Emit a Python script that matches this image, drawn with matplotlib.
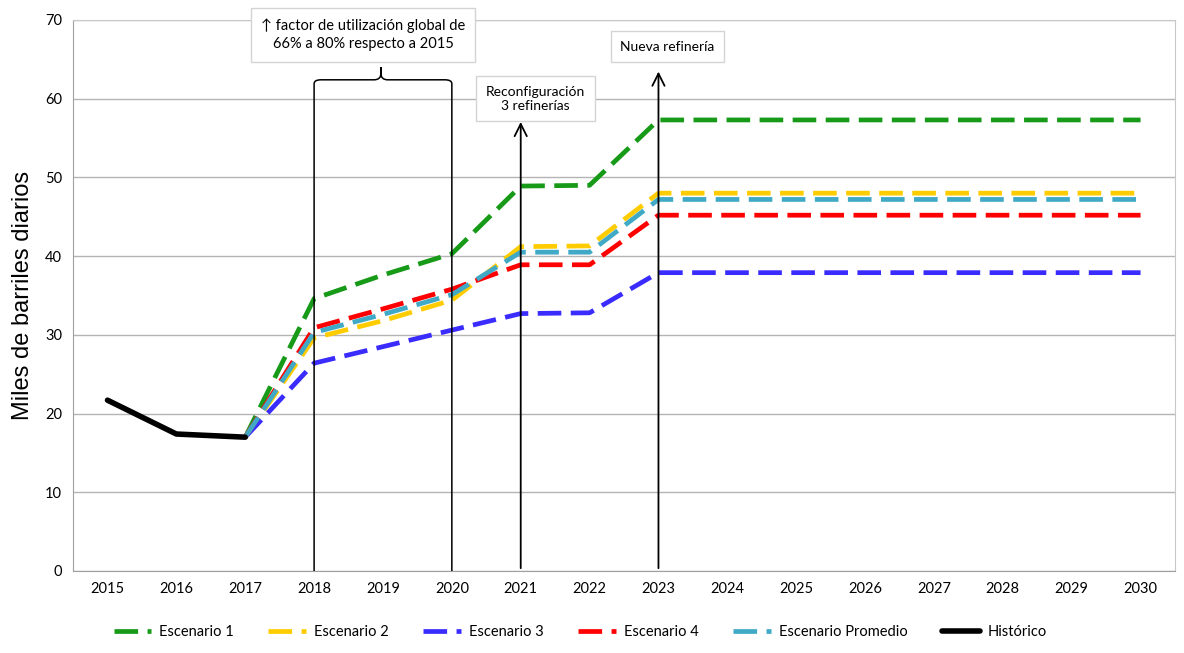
import matplotlib
matplotlib.use("Agg")
import matplotlib.pyplot as plt
from matplotlib.path import Path
from matplotlib.patches import PathPatch

plt.rcParams["font.family"] = ["Lato", "DejaVu Sans"]

# ---------------------------------------------------------------- data
years = list(range(2015, 2031))
hist_years = [2015, 2016, 2017]
historico = [21.7, 17.4, 17.0]

proj_years = list(range(2017, 2031))
escenario_1 = [17.0, 34.6, 37.6, 40.3, 48.9, 49.0] + [57.3] * 8
escenario_2 = [17.0, 29.6, 31.8, 34.4, 41.2, 41.3] + [48.0] * 8
escenario_3 = [17.0, 26.4, 28.5, 30.6, 32.7, 32.8] + [37.9] * 8
escenario_4 = [17.0, 30.9, 33.3, 35.8, 38.9, 38.9] + [45.2] * 8
promedio = [17.0, 30.3, 32.6, 35.1, 40.5, 40.5] + [47.2] * 8

series = [
    ("Escenario 1", escenario_1, "#179a17"),
    ("Escenario 2", escenario_2, "#ffcc00"),
    ("Escenario 3", escenario_3, "#3a2cff"),
    ("Escenario 4", escenario_4, "#ff0000"),
    ("Escenario Promedio", promedio, "#3fa9c6"),
]

# ---------------------------------------------------------------- plot
fig = plt.figure(figsize=(11.84, 6.53), dpi=100)
ax = fig.add_axes([0.0617, 0.1256, 0.9307, 0.8438])

for name, vals, col in series:
    ax.plot(proj_years, vals, color=col, lw=3.4, ls=(0, (5, 2)),
            solid_capstyle="butt", label=name, zorder=3)
ax.plot(hist_years, historico, color="black", lw=4, label="Histórico",
        solid_capstyle="round", zorder=4)

ax.set_xlim(2014.5, 2030.5)
ax.set_ylim(0, 70)
ax.set_xticks(years)
ax.set_yticks(range(0, 71, 10))
ax.tick_params(length=0, labelsize=10.5, pad=8)
ax.grid(axis="y", color="#b4b4b4", lw=1)
ax.set_axisbelow(True)
for sp in ax.spines.values():
    sp.set_color("#c8c8c8")
ax.spines["left"].set_color("#a0a0a0")
ax.spines["bottom"].set_color("#a0a0a0")
ax.set_ylabel("Miles de barriles diarios", fontsize=17, labelpad=8,
              family=["Liberation Sans", "DejaVu Sans"])

# brace over 2018-2020, legs run down to the axis
yb = 62.4
verts = [
    (2018, 0), (2018, yb - 0.5),
    (2018, yb), (2018.1, yb),
    (2018.87, yb),
    (2018.97, yb), (2018.97, yb + 0.8),
    (2018.97, yb + 1.6),
    (2018.97, yb + 0.8),
    (2018.97, yb), (2019.07, yb),
    (2019.9, yb),
    (2020, yb), (2020, yb - 0.5),
    (2020, 0),
]
codes = [Path.MOVETO, Path.LINETO,
         Path.CURVE3, Path.CURVE3,
         Path.LINETO,
         Path.CURVE3, Path.CURVE3,
         Path.LINETO,
         Path.LINETO,
         Path.CURVE3, Path.CURVE3,
         Path.LINETO,
         Path.CURVE3, Path.CURVE3,
         Path.LINETO]
ax.add_patch(PathPatch(Path(verts, codes), fill=False, lw=1.1,
                       color="black", clip_on=False, zorder=5))

arrow = dict(arrowstyle="->", lw=1.3, color="black", mutation_scale=22)
ax.annotate("", xy=(2021, 57.4), xytext=(2021, 0), arrowprops=arrow,
            zorder=5, annotation_clip=False)
ax.annotate("", xy=(2023, 63.8), xytext=(2023, 0), arrowprops=arrow,
            zorder=5, annotation_clip=False)

box = dict(boxstyle="square,pad=0.7", fc="white", ec="#d4d4d4", lw=1)
ax.text(2018.71, 68.1, "\u2191 factor de utilización global de\n"
        "66% a 80% respecto a 2015", ha="center", va="center",
        fontsize=10.5, bbox=box, clip_on=False, zorder=6, linespacing=1.4)
ax.text(2021.21, 60.0, "Reconfiguración\n3 refinerías", ha="center",
        va="center", fontsize=10, bbox=box, clip_on=False, zorder=6)
ax.text(2023.13, 66.6, "Nueva refinería", ha="center", va="center",
        fontsize=10, bbox=box, clip_on=False, zorder=6)

fig.legend(loc="center", bbox_to_anchor=(0.49, 0.032), ncol=6,
           frameon=False, fontsize=10.5, handlelength=2.6,
           columnspacing=2.4, handletextpad=0.5)

fig.savefig("out.png", dpi=100)
